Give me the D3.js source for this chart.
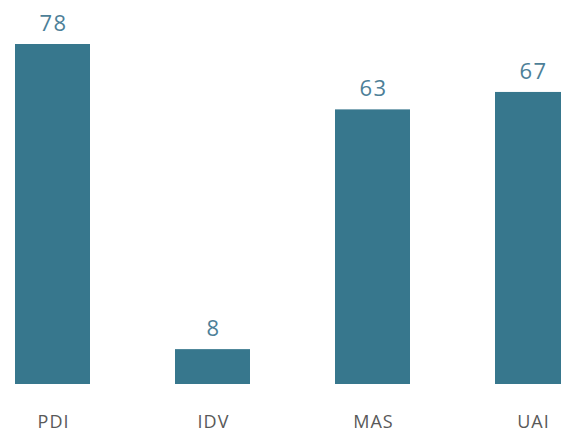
<!DOCTYPE html>
<html>
<head>
<meta charset="utf-8">
<script src="https://cdn.jsdelivr.net/npm/d3@7"></script>
<style>
  body { margin: 0; background: #ffffff; overflow: hidden; }
</style>
</head>
<body>
<svg class="container"></svg>
<script>
// Hofstede-style dimension scores
const categories = ['PDI', 'IDV', 'MAS', 'UAI'];
const values = [78, 8, 63, 67];

const w = 561, h = 434;

const data = categories.map((c, i) => ({ name: c, value: values[i] }));

const xScale = d3.scaleBand().domain(categories)
  .range([-27.5, 612.5])
  .paddingInner(0.53125)
  .paddingOuter(0.265625);
const yScale = d3.scaleLinear().domain([0, 78]).range([384, 44]);

const svg = d3.select('.container').attr('width', w).attr('height', h);

svg.selectAll('.bar').data(data).join('rect')
  .attr('class', 'bar')
  .attr('x', d => xScale(d.name))
  .attr('y', d => yScale(d.value))
  .attr('width', xScale.bandwidth())
  .attr('height', d => yScale(0) - yScale(d.value))
  .attr('fill', '#37778d');

svg.selectAll('.val').data(data).join('text')
  .attr('class', 'val')
  .attr('x', d => xScale(d.name) + xScale.bandwidth() / 2 + 1)
  .attr('y', d => yScale(d.value) - 13)
  .attr('text-anchor', 'middle')
  .style('font-family', '"Open Sans", sans-serif')
  .style('font-size', '22px')
  .style('letter-spacing', '1.5px')
  .style('fill', '#4d7f98')
  .text(d => d.value);

// category axis, no line or ticks
const xAxis = svg.append('g')
  .attr('transform', `translate(0, ${yScale(0)})`)
  .call(d3.axisBottom(xScale).tickSize(0).tickPadding(31));
xAxis.select('.domain').remove();
xAxis.selectAll('text')
  .attr('dx', '1px')
  .style('font-family', '"Open Sans", sans-serif')
  .style('font-size', '18px')
  .style('letter-spacing', '1px')
  .style('fill', '#595959');
</script>
</body>
</html>
